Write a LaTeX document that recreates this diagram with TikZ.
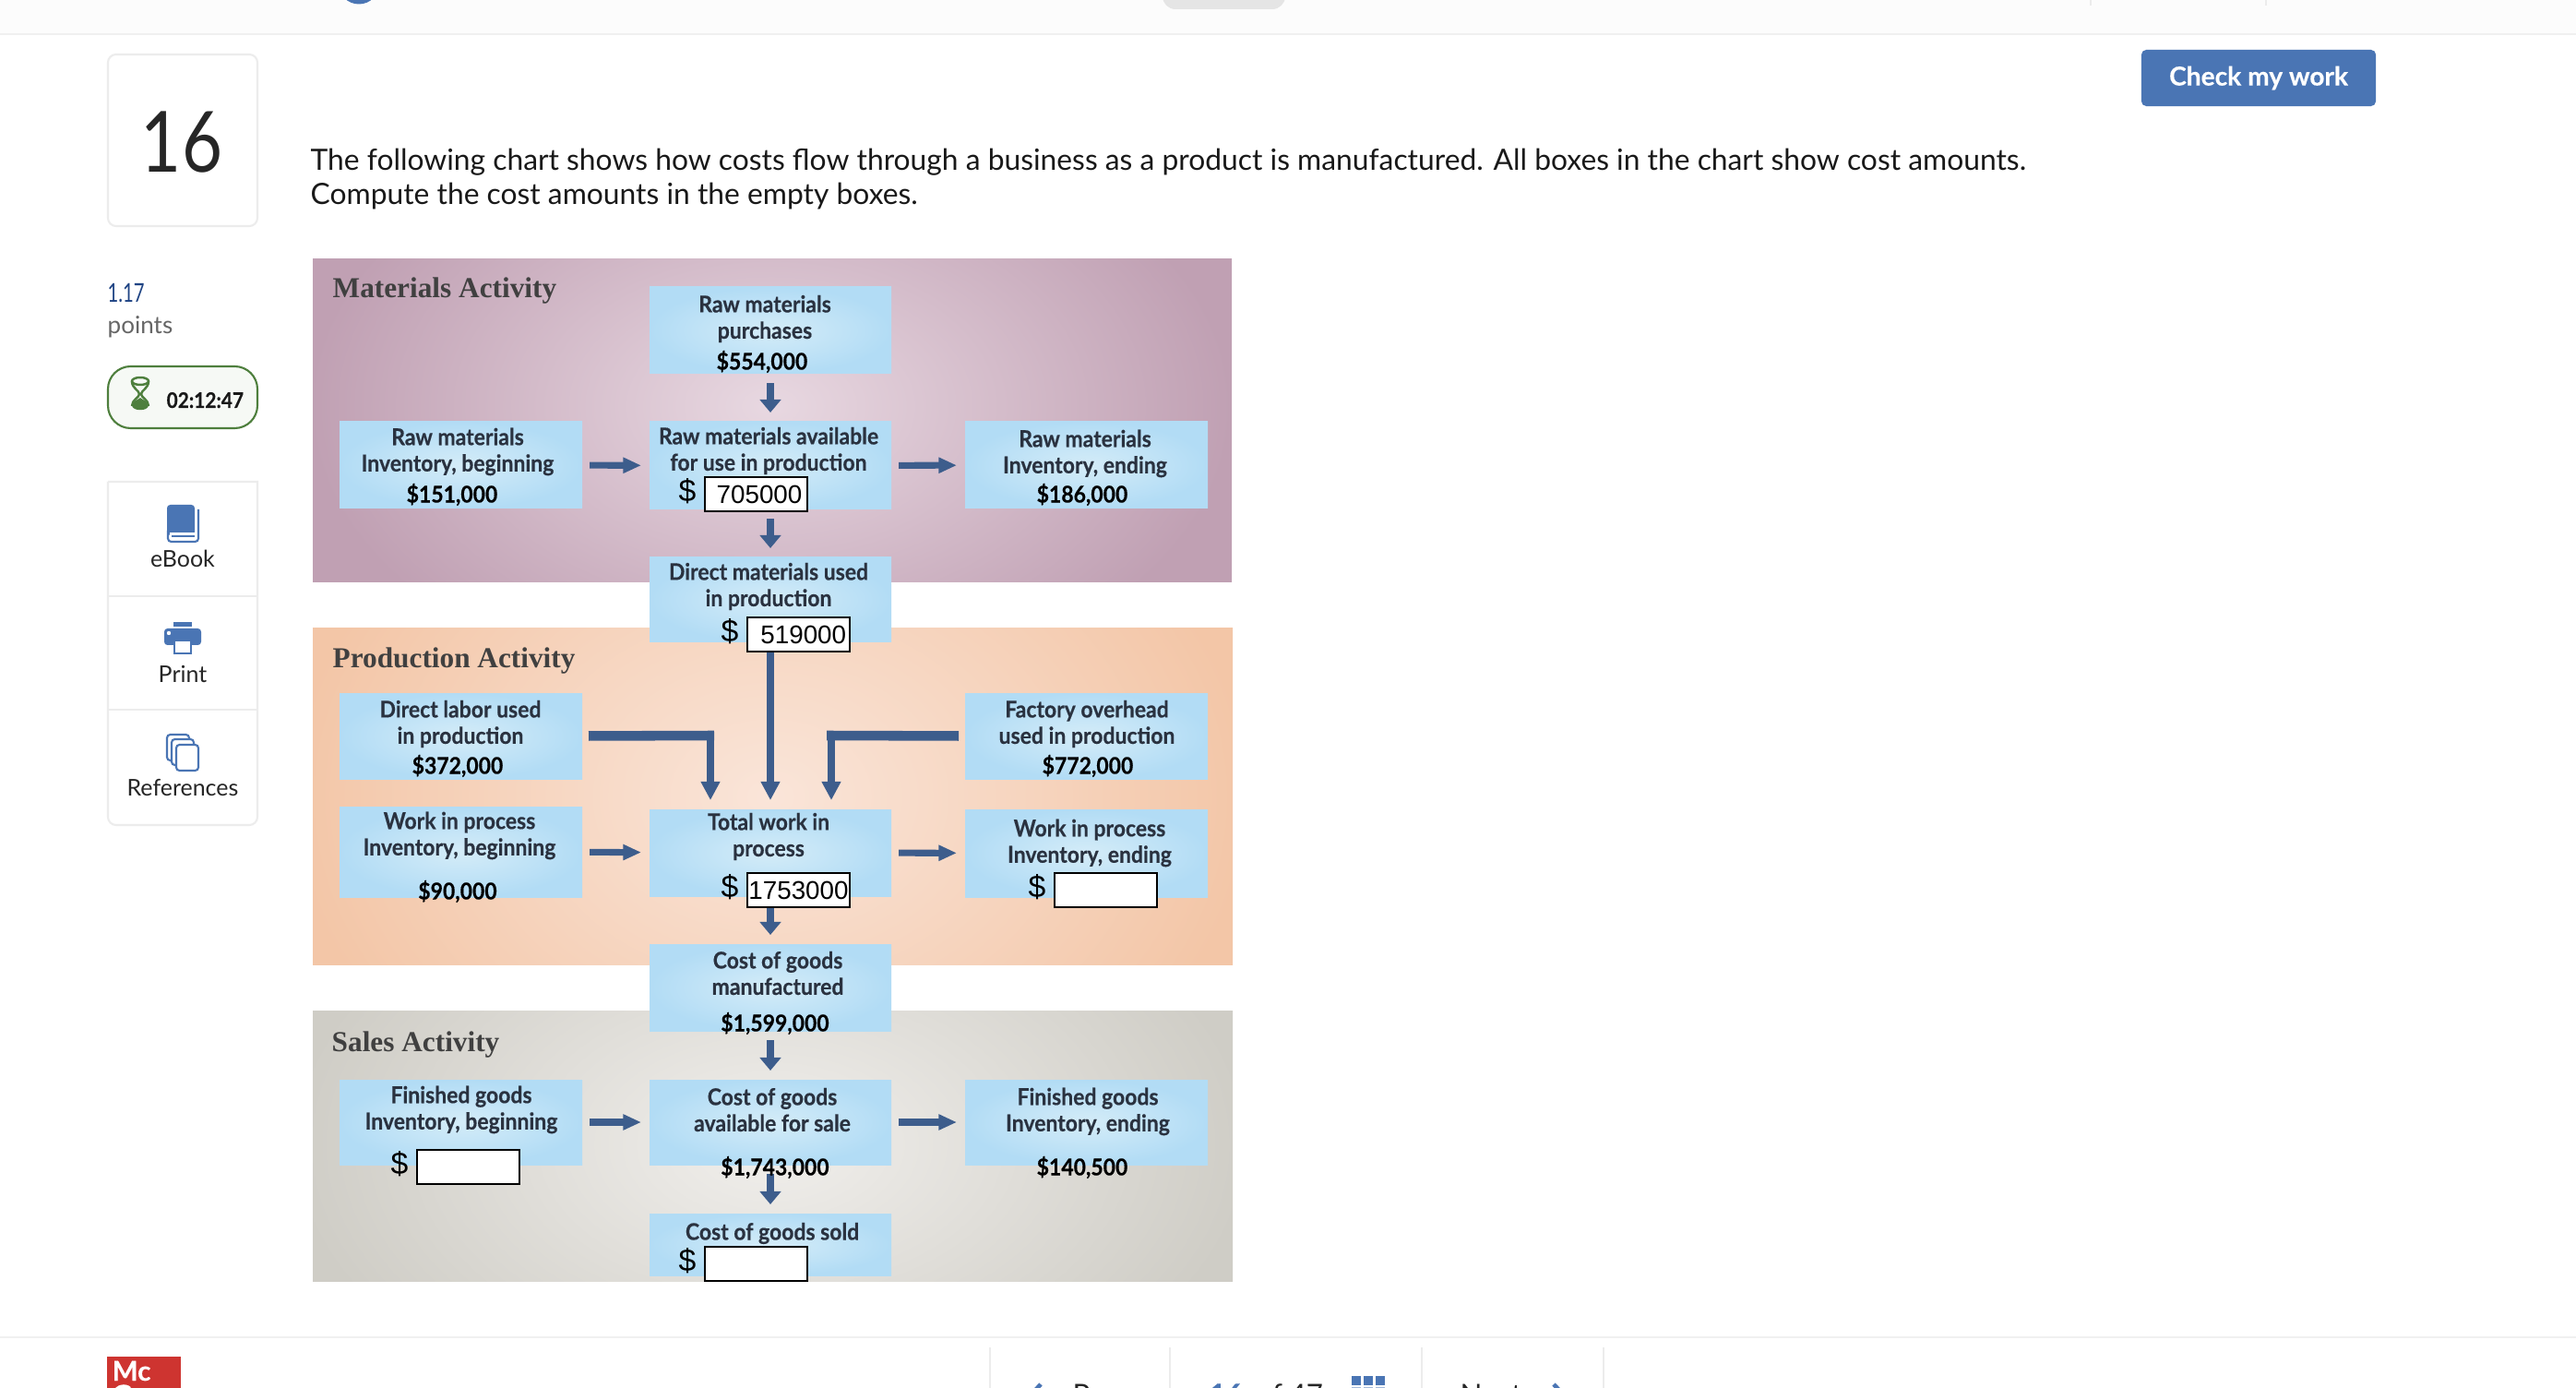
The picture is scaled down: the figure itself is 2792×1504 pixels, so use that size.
\documentclass[tikz,border=0pt]{standalone}
\usepackage{fontspec}
\setmainfont{Lato}[BoldFeatures={FakeBold=0.35}]
\newfontfamily\titlefont{Liberation Serif}
\newfontfamily\inputfont{Liberation Sans}
\usetikzlibrary{arrows.meta}

\definecolor{appblue}{RGB}{74, 117, 180}
\definecolor{framegray}{RGB}{236, 236, 236}
\definecolor{timergreen}{RGB}{78, 127, 61}
\definecolor{pointblue}{RGB}{31, 68, 132}
\definecolor{flowblue}{RGB}{61, 93, 140}
\definecolor{boxedge}{RGB}{178, 220, 245}
\definecolor{boxinner}{RGB}{212, 236, 248}
\definecolor{labeldark}{RGB}{42, 50, 64}
\definecolor{logored}{RGB}{206, 52, 48}

\tikzset{
	flowbox/.style={inner sep=0pt, outer sep=0pt, inner color=boxinner, outer color=boxedge},
	boxlabel/.style={font=\bfseries\fontsize{7.1}{8.1}\selectfont, text=labeldark, align=center, inner sep=0pt, xscale=0.92, transform shape, yshift=-0.015cm},
	amountlabel/.style={font=\bfseries\fontsize{7.1}{8.1}\selectfont, text=black, inner sep=0pt, xscale=0.92, transform shape},
	activitylabel/.style={font=\titlefont\bfseries\fontsize{8.9}{11}\selectfont, text=black!75, anchor=base west, inner sep=0pt},
	inputbox/.style={draw=black, line width=0.6pt, fill=white, minimum width=1.11cm, minimum height=0.37cm, inner sep=0pt, font=\inputfont\fontsize{7.9}{9}\selectfont},
	dollarsign/.style={font=\inputfont\fontsize{9.6}{11}\selectfont, inner sep=0pt},
	longarrow/.style={draw=flowblue, line width=2.5pt, -{Triangle[length=5.7pt,width=5.6pt]}, shorten >=0.1cm},
	downarrow/.style={draw=flowblue, line width=2.4pt, -{Triangle[length=4pt,width=6.4pt]}, shorten >=0.1cm, shorten <=0.1cm},
	sidearrow/.style={draw=flowblue, line width=2pt, -{Triangle[length=5.6pt,width=4.6pt]}, shorten >=0.09cm, shorten <=0.08cm},
	sidebar/.style={draw=framegray, line width=0.6pt, fill=white},
	sidetext/.style={font=\fontsize{7.1}{9}\selectfont, text=black!85, anchor=base, inner sep=0pt},
	bottomtext/.style={font=\fontsize{8.9}{10}\selectfont, text=black!85, anchor=base west, inner sep=0pt},
}

\begin{document}
\begin{tikzpicture}[x=0.01cm, y=-0.01cm] % one unit is one pixel of the screenshot, y runs downward
	
	\useasboundingbox (0,0) rectangle (2792,1504);
	\clip (0,0) rectangle (2792,1504);
	\fill[white] (0,0) rectangle (2792,1504);
	
	% Top bar
	\fill[black!1] (0,0) rectangle (2792,36);
	\fill[black!6] (0,36) rectangle (2792,38);
	\fill[appblue] (389,-17.5) circle (22);
	\fill[black!10!white, rounded corners=4pt] (1260,-30) rectangle (1393,10);
	\foreach \x in {2266, 2456} {
		\fill[framegray] (\x-1,0) rectangle (\x+1,6);
	}
	
	% Question number
	\draw[sidebar, rounded corners=2.5pt] (117,59) rectangle (279,245);
	\node[font=\fontsize{26}{30}\selectfont, text=black!85, inner sep=0pt, xscale=0.83, transform shape] (qnumber) at (197,154) {16};
	
	% Question text
	\node[font=\fontsize{9.04}{10.5}\selectfont, text=black!90, anchor=base west, inner sep=0pt] (qline1) at (336,185) {The following chart shows how costs flow through a business as a product is manufactured. All boxes in the chart show cost amounts.};
	\node[font=\fontsize{9.04}{10.5}\selectfont, text=black!90, anchor=base west, inner sep=0pt] (qline2) at (336,222) {Compute the cost amounts in the empty boxes.};
	
	% Points and timer
	\node[font=\fontsize{8}{10}\selectfont, text=pointblue, anchor=base west, inner sep=0pt, xscale=0.72, transform shape] (points) at (116,328) {1.17};
	\node[font=\fontsize{7.4}{10}\selectfont, text=black!60, anchor=base west, inner sep=0pt] (pointstext) at (116,362) {points};
	\draw[draw=timergreen, line width=0.6pt, fill=timergreen!5, rounded corners=7pt] (117,397) rectangle (279,464);
	\draw[timergreen, line width=0.7pt] (152,413) ellipse (9 and 4);
	\draw[timergreen, line width=0.7pt] (143,413) .. controls (143,421) and (151,423) .. (151,427) .. controls (151,431) and (143,433) .. (143,440);
	\draw[timergreen, line width=0.7pt] (161,413) .. controls (161,421) and (153,423) .. (153,427) .. controls (153,431) and (161,433) .. (161,440);
	\fill[timergreen] (143,439) .. controls (145,434) and (150,433) .. (152,431) .. controls (154,433) and (159,434) .. (161,439) .. controls (161,446) and (143,446) .. (143,439) -- cycle;
	\node[font=\bfseries\fontsize{6.6}{8}\selectfont, text=black!90, anchor=base west, inner sep=0pt, xscale=0.9, transform shape] (timer) at (180,442) {02:12:47};
	
	% Side panel
	\draw[sidebar] (117,522) -- (279,522) [rounded corners=2.5pt] -- (279,894) -- (117,894) -- (117,522);
	\foreach \y in {646, 769} {
		\draw[framegray, line width=0.6pt] (117,\y) -- (279,\y);
	}
	\node[sidetext] (ebook) at (198,615) {eBook};
	\node[sidetext] (print) at (198,739) {Print};
	\node[sidetext] (references) at (198,862) {References};
	
	% Book icon
	\fill[appblue, rounded corners=1pt] (181,547) rectangle (211,580);
	\draw[appblue, line width=0.6pt, rounded corners=1pt] (182,575) -- (182,587) -- (215,587) -- (215,552);
	\fill[white] (184,577) rectangle (211,585);
	\fill[appblue] (186,580) rectangle (211,582);
	
	% Printer icon
	\fill[appblue] (188,674) rectangle (208,679);
	\fill[appblue, rounded corners=1pt] (178,681) rectangle (218,699);
	\fill[white] (183,686) circle (2.2);
	\draw[appblue, fill=white, line width=0.6pt] (189,694) rectangle (207,708);
	
	% References icon
	\foreach \xa/\ya in {181/796, 186/801, 191/807} {
		\draw[appblue, fill=white, line width=0.6pt, rounded corners=1pt] (\xa,\ya) rectangle (\xa+24,\ya+28);
	}
	
	% Activity bands
	\begin{scope}
		\clip (339,281) rectangle (1336,631);
		\shade[inner color={rgb,255:red,232;green,216;blue,225}, outer color={rgb,255:red,192;green,160;blue,179}] (335,120) rectangle (1335,760);
	\end{scope}
	\begin{scope}
		\clip (339,681) rectangle (1336,1045);
		\shade[inner color={rgb,255:red,250;green,229;blue,217}, outer color={rgb,255:red,243;green,198;blue,167}] (315,463) rectangle (1355,1263);
	\end{scope}
	\begin{scope}
		\clip (339,1095) rectangle (1336,1388);
		\shade[inner color={rgb,255:red,241;green,239;blue,236}, outer color={rgb,255:red,207;green,205;blue,198}] (315,920) rectangle (1355,1560);
	\end{scope}
	\node[activitylabel] (materialstitle) at (360,323) {Materials Activity};
	\node[activitylabel] (productiontitle) at (360,723) {Production Activity};
	\node[activitylabel] (salestitle) at (359,1139) {Sales Activity};
	
	% Blue boxes
	\foreach \name/\xa/\ya/\xb/\yb in {
		rmpurch/704/311/966/405, rmbegin/368/457/631/551, rmavail/704/457/966/552, rmend/1046/457/1309/551,
		dmused/704/604/966/696, dlabor/368/751/631/844, overhead/1046/751/1309/844,
		wipbegin/368/874/631/972, totalwip/704/877/966/971, wipend/1046/877/1309/972,
		cogm/704/1023/966/1117, fgbegin/368/1170/631/1262, cgas/704/1170/966/1262, fgend/1046/1170/1309/1262,
		cogs/704/1315/966/1382} {
		\node[flowbox, minimum width={(\xb-\xa)*0.01cm}, minimum height={(\yb-\ya)*0.01cm}] (\name) at ({(\xa+\xb)/2},{(\ya+\yb)/2}) {};
	}
	
	% Arrows
	\foreach \from/\to in {rmpurch/rmavail, rmavail/dmused, totalwip/cogm, cogm/cgas, cgas/cogs} {
		\draw[downarrow] (\from) -- (\to);
	}
	\foreach \from/\to in {rmbegin/rmavail, rmavail/rmend, wipbegin/totalwip, totalwip/wipend, fgbegin/cgas, cgas/fgend} {
		\draw[sidearrow] (\from) -- (\to);
	}
	\coordinate (laborin) at (770,877);
	\coordinate (overheadin) at (901,877);
	\draw[longarrow] (dmused.south) -- (totalwip.north);
	\draw[longarrow, shorten <=0.07cm] (dlabor.east) -| (laborin);
	\draw[longarrow, shorten <=0.07cm] (overhead.west) -| (overheadin);
	\draw[flowblue, line width=3pt, shorten <=0.07cm] (dlabor.east) -- (774,797);
	\draw[flowblue, line width=3pt, shorten <=0.07cm] (overhead.west) -- (896,797);
	
	% Box labels
	\foreach \name/\px/\py/\txt in {
		rmpurchtxt/829/344/{Raw materials\\purchases},
		rmbegintxt/496/488/{Raw materials\\Inventory, beginning},
		rmavailtxt/833/487/{Raw materials available\\for use in production},
		rmendtxt/1176/490/{Raw materials\\Inventory, ending},
		dmusedtxt/833/634/{Direct materials used\\in production},
		dlabortxt/499/783/{Direct labor used\\in production},
		overheadtxt/1178/783/{Factory overhead\\used in production},
		wipbegintxt/498/904/{Work in process\\Inventory, beginning},
		totalwiptxt/833/905/{Total work in\\process},
		wipendtxt/1181/912/{Work in process\\Inventory, ending},
		cogmtxt/843/1053/{Cost of goods\\manufactured},
		fgbegintxt/500/1201/{Finished goods\\Inventory, beginning},
		cgastxt/837/1201/{Cost of goods\\available for sale},
		fgendtxt/1179/1203/{Finished goods\\Inventory, ending},
		cogstxt/837/1335/{Cost of goods sold}} {
		\node[boxlabel] (\name) at (\px,\py) {\txt};
	}
	
	% Printed amounts
	\foreach \name/\px/\py/\txt in {
		rmpurchamt/826/392/{\$554,000}, rmbeginamt/490/536/{\$151,000}, rmendamt/1173/536/{\$186,000},
		dlaboramt/496/830/{\$372,000}, overheadamt/1179/830/{\$772,000}, wipbeginamt/496/966/{\$90,000},
		cogmamt/840/1109/{\$1,599,000}, cgasamt/840/1265/{\$1,743,000}, fgendamt/1173/1265/{\$140,500}} {
		\node[amountlabel] (\name) at (\px,\py) {\txt};
	}
	
	% Answer fields with dollar signs
	\foreach \name/\xa/\ya/\val in {
		availinput/764/517/{\hspace*{2pt}705000}, dminput/810/669/{\hspace*{3pt}519000}, wipinput/810/946/{1753000},
		wipendinput/1143/946/{}, fginput/452/1246/{}, cogsinput/764/1351/{}} {
		\node[inputbox] (\name) at (\xa+55.5,\ya+18.5) {\val};
		\node[dollarsign] (\name dollar) at (\xa-19,\ya+15.5) {\$};
	}
	
	% Check button
	\node[fill=appblue, rounded corners=1.5pt, text=white, font=\bfseries\fontsize{8}{10}\selectfont, minimum width=2.54cm, minimum height=0.61cm, inner sep=0pt] (checkwork) at (2448,84.5) {Check my work};
	
	% Bottom bar
	\fill[black!6] (0,1448) rectangle (2792,1450);
	\foreach \x in {1073, 1268, 1541, 1738} {
		\fill[framegray] (\x-1,1460) rectangle (\x+1,1504);
	}
	\fill[logored] (116,1470) rectangle (196,1504);
	\node[font=\bfseries\fontsize{8.4}{10}\selectfont, text=white, anchor=base west, inner sep=0pt] (logomc) at (121,1496) {Mc};
	\node[font=\bfseries\fontsize{8.4}{10}\selectfont, text=white, anchor=base west, inner sep=0pt] (logograw) at (121,1522) {Graw};
	\draw[appblue, line width=1.3pt, line join=round] (1128,1500) -- (1113,1516) -- (1128,1532);
	\node[bottomtext] (prevtext) at (1162,1522) {Prev};
	\node[bottomtext, text=appblue, font=\bfseries\fontsize{8.9}{10}\selectfont] (currentq) at (1310,1522) {16};
	\node[bottomtext] (oftext) at (1361,1522) {of};
	\node[bottomtext] (totalq) at (1397,1522) {47};
	\foreach \x in {1465, 1478, 1491} {
		\fill[appblue] (\x,1491) rectangle (\x+10,1501);
		\fill[appblue!50] (\x,1503) rectangle (\x+10,1513);
	}
	\node[bottomtext] (nexttext) at (1582,1522) {Next};
	\draw[appblue, line width=1.3pt, line join=round] (1684,1500) -- (1699,1516) -- (1684,1532);
	
\end{tikzpicture}
\end{document}
